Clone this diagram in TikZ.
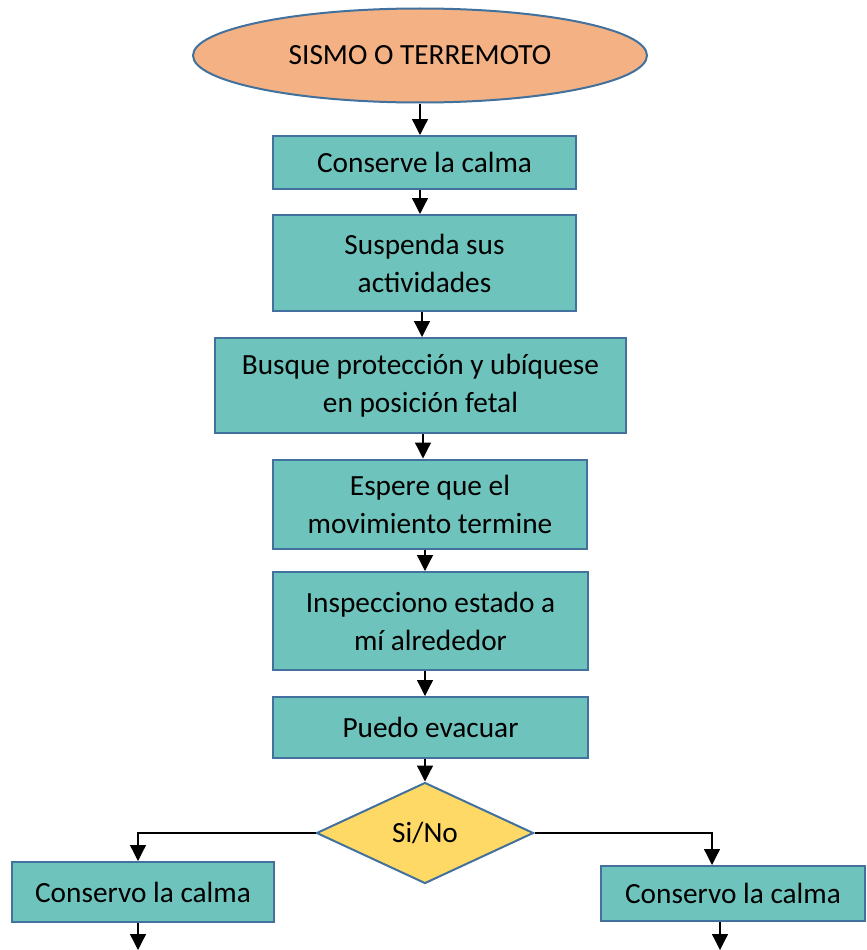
\documentclass[tikz,border=0pt]{standalone}
\usepackage{fontspec}
\setmainfont{Carlito}
\usetikzlibrary{shapes.geometric,arrows.meta}
\definecolor{tealfill}{RGB}{110,196,188}
\definecolor{edgeblue}{RGB}{65,113,156}
\definecolor{peach}{RGB}{244,177,131}
\definecolor{gold}{RGB}{255,217,102}
\tikzset{
  box/.style={rectangle,draw=edgeblue,line width=2pt,fill=tealfill,inner sep=0pt,align=center,font=\fontsize{29.3}{38}\selectfont},
  arr/.style={line width=1.3pt,-{Triangle[length=16pt,width=16pt]}},
}
\begin{document}
\begin{tikzpicture}[x=1pt,y=-1pt]
\fill[white] (0,0) rectangle (867,950);
\useasboundingbox (0,0) rectangle (867,950);
\node[ellipse,draw=edgeblue,line width=2pt,fill=peach,minimum width=454pt,minimum height=94pt,inner sep=0pt,font=\fontsize{29.3}{38}\selectfont] (ell) at (420,55.5) {SISMO O TERREMOTO};
\node[box,minimum width=303pt,minimum height=53pt] (b1) at (424.5,162.5) {Conserve la calma};
\node[box,minimum width=303pt,minimum height=96pt] (b2) at (424.5,263) {Suspenda sus\\actividades};
\node[box,minimum width=411pt,minimum height=95pt] (b3) at (420.5,385.5) {Busque protección y ubíquese\\en posición fetal};
\node[box,minimum width=314pt,minimum height=89pt] (b4) at (430,504) {Espere que el\\movimiento termine};
\node[box,minimum width=315pt,minimum height=98pt] (b5) at (430.5,621) {Inspecciono estado a\\mí alrededor};
\node[box,minimum width=315pt,minimum height=61pt] (b6) at (430.5,727.5) {Puedo evacuar};
\node[diamond,draw=edgeblue,line width=2pt,fill=gold,minimum width=217pt,minimum height=101pt,inner sep=0pt,font=\fontsize{29.3}{38}\selectfont] (dia) at (425,833) {Si/No};
\node[box,minimum width=262pt,minimum height=60pt] (lb) at (143,892) {Conservo la calma};
\node[box,minimum width=264pt,minimum height=55pt] (rb) at (733,893.5) {Conservo la calma};
\coordinate (lt) at ([xshift=-5pt]lb.north);
\coordinate (rt) at ([xshift=-21pt]rb.north);
\coordinate (le) at (138,950);
\coordinate (re) at (720,950);
\draw[arr] (ell.south) -- (ell.south |- b1.north);
\draw[arr] (b1.south -| ell.south) -- (b2.north -| ell.south);
\draw[arr] ([xshift=1.5pt]b3.north |- b2.south) -- ([xshift=1.5pt]b3.north);
\draw[arr] ([xshift=2.5pt]b3.south) -- ([xshift=2.5pt]b3.south |- b4.north);
\draw[arr] (b4.south -| dia.north) -- (b5.north -| dia.north);
\draw[arr] (b5.south -| dia.north) -- (b6.north -| dia.north);
\draw[arr] (b6.south -| dia.north) -- (dia.north);
\draw[arr] (dia.west) -- (dia.west -| lt) -- (lt);
\draw[arr] (dia.east) -- (dia.east -| rt) -- (rt);
\draw[arr] (lb.south -| le) -- (le);
\draw[arr] (rb.south -| re) -- (re);
\end{tikzpicture}
\end{document}
